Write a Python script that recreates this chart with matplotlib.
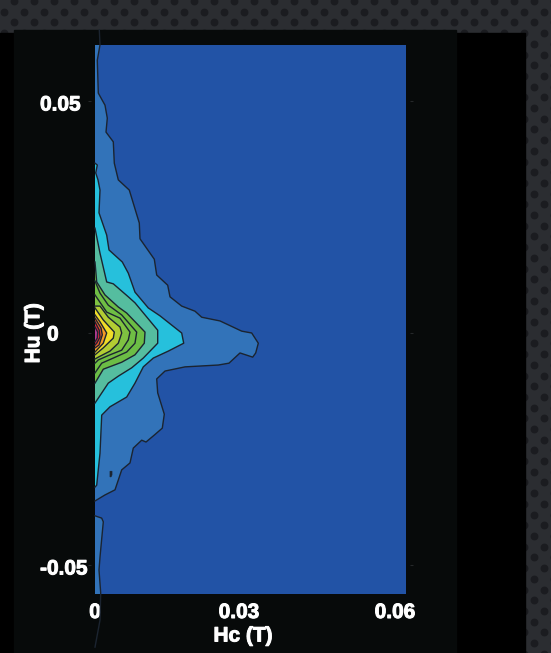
import numpy as np
import matplotlib
matplotlib.use('Agg')
import matplotlib.pyplot as plt
import matplotlib.patheffects as pe
from matplotlib.patches import Rectangle
from matplotlib.transforms import ScaledTranslation

# contour levels, Hc and Hu in mT, outermost first
hc_l1 = [0.86, 1.0, 0.46, 0.66, 2.0, 2.46, 2.2, 3.66, 3.86, 4.66, 6.86, 8.86, 9.0, 11.86, 12.34, 14.54, 15.0, 17.34, 20.0, 21.34, 25.0, 29.34, 31.34, 32.66, 32.14, 31.54, 29.0, 26.8, 24.66, 18.0, 14.0, 12.34, 12.54, 13.86, 13.46, 11.86, 10.2, 9.34, 7.66, 7.0, 5.34, 4.0, 2.0, 0]
hu_l1 = [65.3, 62.1, 58.8, 51.7, 49.1, 46.3, 43.3, 41.2, 36.6, 33.0, 30.8, 23.7, 20.3, 15.9, 12.5, 10.3, 7.8, 5.8, 4.7, 3.4, 2.6, 0.4, 0, -2.2, -4.3, -5.2, -4.3, -6.5, -6.9, -7.3, -8.2, -9.9, -12.9, -17.5, -20.5, -22.0, -23.5, -23.1, -24.8, -28.0, -29.5, -33.8, -34.9, -36.2]
hc_l1b = [0, 1.34, 1.66, 1.0, 0.8, 1.14, 1.0, 0]
hu_l1b = [-39.4, -39.9, -40.7, -48.3, -51.1, -56.0, -61.9, -67.7]
hc_l2 = [0, 0.46, 0.14, 0.6, 1.0, 0.8, 2.34, 2.8, 5.46, 6.66, 8.0, 10.66, 13.0, 17.34, 17.74, 14.66, 11.66, 9.66, 8.0, 6.34, 3.0, 1.34, 1.0, 0.34, 0]
hu_l2 = [36.6, 36.2, 34.5, 33.0, 30.8, 25.9, 21.1, 17.9, 15.3, 12.9, 8.8, 5.4, 3.7, 0, -2.2, -3.9, -5.4, -7.3, -10.8, -13.8, -15.9, -17.7, -25.9, -32.8, -33.2]
hc_l3 = [0, 1.0, 2.34, 3.66, 6.66, 8.0, 12.54, 12.54, 9.66, 7.34, 4.66, 2.66, 0]
hu_l3 = [22.6, 17.2, 11.0, 10.6, 7.8, 6.5, 0.6, -2.2, -5.4, -7.5, -9.3, -10.8, -15.1]
hc_l4 = [0, 0.34, 2.0, 4.66, 6.34, 10.0, 9.86, 8.0, 5.34, 1.66, 0]
hu_l4 = [15.3, 11.0, 8.2, 5.6, 4.3, 0.2, -2.2, -4.7, -6.3, -7.8, -10.8]
hc_l5 = [0, 1.0, 2.66, 5.34, 8.34, 8.0, 6.34, 3.66, 1.34, 0]
hu_l5 = [11.2, 8.6, 6.0, 3.9, 0.2, -2.2, -4.1, -5.4, -6.5, -8.6]
hc_l6 = [0, 2.34, 5.0, 7.0, 6.66, 5.34, 3.0, 0.66, 0]
hu_l6 = [8.2, 4.5, 3.2, 0.2, -1.5, -3.7, -4.7, -5.8, -6.5]
hc_l7 = [0, 1.0, 2.66, 5.0, 5.34, 4.66, 3.0, 0.66, 0]
hu_l7 = [5.8, 5.8, 3.4, 1.3, 0, -2.2, -3.9, -5.2, -5.6]
hc_l8 = [0, 1.66, 3.86, 3.66, 1.66, 0]
hu_l8 = [5.4, 2.8, 0.2, -1.1, -3.2, -4.7]
hc_l9 = [0, 1.0, 2.34, 1.66, 0]
hu_l9 = [3.9, 2.4, 0, -2.2, -4.1]
hc_l10 = [0, 1.2, 1.46, 0.8, 0]
hu_l10 = [3.2, 1.1, -0.4, -2.6, -3.2]
hc_l11 = [0, 0.86, 1.0, 0.34, 0]
hu_l11 = [2.4, 0.6, -0.9, -2.2, -2.6]
hc_l12 = [0, 0.54, 0.46, 0]
hu_l12 = [1.3, 0.2, -1.1, -1.9]
hc_island = [3.0, 3.4, 3.4, 3.2, 3.0]
hu_island = [-29.8, -29.8, -30.6, -31.0, -31.0]

x_ticks = [0, 0.03, 0.06]
x_tick_labels = ['0', '0.03', '0.06']
y_ticks = [-0.05, 0, 0.05]
y_tick_labels = ['-0.05', '0', '0.05']

levels = [(hc_l1, hu_l1, '#3273b9'), (hc_l1b, hu_l1b, '#3273b9'), (hc_l2, hu_l2, '#26c0dc'),
          (hc_l3, hu_l3, '#55bd9f'), (hc_l4, hu_l4, '#6cbd45'), (hc_l5, hu_l5, '#6fbe44'),
          (hc_l6, hu_l6, '#7fc241'), (hc_l7, hu_l7, '#b3cd33'), (hc_l8, hu_l8, '#f0dc28'),
          (hc_l9, hu_l9, '#f39a26'), (hc_l10, hu_l10, '#ee5a2b'), (hc_l11, hu_l11, '#e2223c'),
          (hc_l12, hu_l12, '#b13a92')]

fig = plt.figure(figsize=(5.51, 6.53), dpi=100, facecolor='#2b2d31')
plt.rcParams['font.family'] = ['Liberation Sans', 'DejaVu Sans']

# page behind the chart
bg = fig.add_axes([0, 0, 1, 1], zorder=0)
bg.set_xlim(0, 551)
bg.set_ylim(653, 0)
bg.axis('off')
for row in range(62):
    y = 1 + row * 10.7
    x0 = 14 if row % 2 == 0 else 3.5
    xs = np.arange(x0, 560, 20)
    bg.scatter(xs, np.full(len(xs), y), s=32, color='#1b1c20', linewidths=0)
bg.add_patch(Rectangle((0, 33), 525, 620, color='#000000', zorder=3))
bg.add_patch(Rectangle((14, 30), 442, 623, color='#070a0a', zorder=4))

ax = fig.add_axes([95 / 551, (653 - 594) / 653, 311 / 551, 549 / 653], zorder=1, facecolor='#2253a6')

for hc, hu, col in levels:
    hc = np.array(hc) / 1000
    hu = np.array(hu) / 1000
    ax.fill(np.r_[0, hc, 0], np.r_[hu[0], hu, hu[-1]], color=col, linewidth=0)
    ax.plot(hc, hu, color='#1b2430', linewidth=1.0, clip_on=False)
ax.fill(np.array(hc_island) / 1000, np.array(hu_island) / 1000, color='#1b2430', linewidth=0.5)

ax.set_xlim(0, 0.0622)
ax.set_ylim(-0.05625, 0.06207)
for s in ax.spines.values():
    s.set_visible(False)
ax.spines['left'].set_position(('outward', 3))
ax.spines['right'].set_position(('outward', 3))

ax.set_xticks(x_ticks)
ax.set_xticklabels(x_tick_labels)
ax.set_yticks(y_ticks)
ax.set_yticklabels(y_tick_labels)
ax.tick_params(axis='y', left=True, right=True, length=2.5, width=0.8, color='#25282a', pad=0.5)
ax.tick_params(axis='x', bottom=False, pad=3)

# slightly fattened text, the original is heavier than plain bold
fat = [pe.withStroke(linewidth=0.7, foreground='white')]
for lab in ax.get_xticklabels() + ax.get_yticklabels():
    lab.set_color('white')
    lab.set_fontsize(15)
    lab.set_fontweight('bold')
    lab.set_path_effects(fat)

# tick labels are not evenly placed in the original, nudge them (pixels)
for lab, dx in zip(ax.get_xticklabels(), [0, -6, 0]):
    lab.set_transform(lab.get_transform() + ScaledTranslation(dx / 100, 0, fig.dpi_scale_trans))
for lab, dx, dy in zip(ax.get_yticklabels(), [1, -28, -6], [-2, 0, -2]):
    lab.set_transform(lab.get_transform() + ScaledTranslation(dx / 100, dy / 100, fig.dpi_scale_trans))

ax.set_xlabel('Hc (T)', color='white', fontsize=15, fontweight='bold', path_effects=fat)
ax.set_ylabel('Hu (T)', color='white', fontsize=15, fontweight='bold', path_effects=fat)
ax.xaxis.set_label_coords(0.476, -0.0765)
ax.xaxis.label.set_va('center')
ax.yaxis.set_label_coords(-0.197, 0.475)
ax.yaxis.label.set_va('center')

fig.savefig('out.png', dpi=100, facecolor=fig.get_facecolor())
